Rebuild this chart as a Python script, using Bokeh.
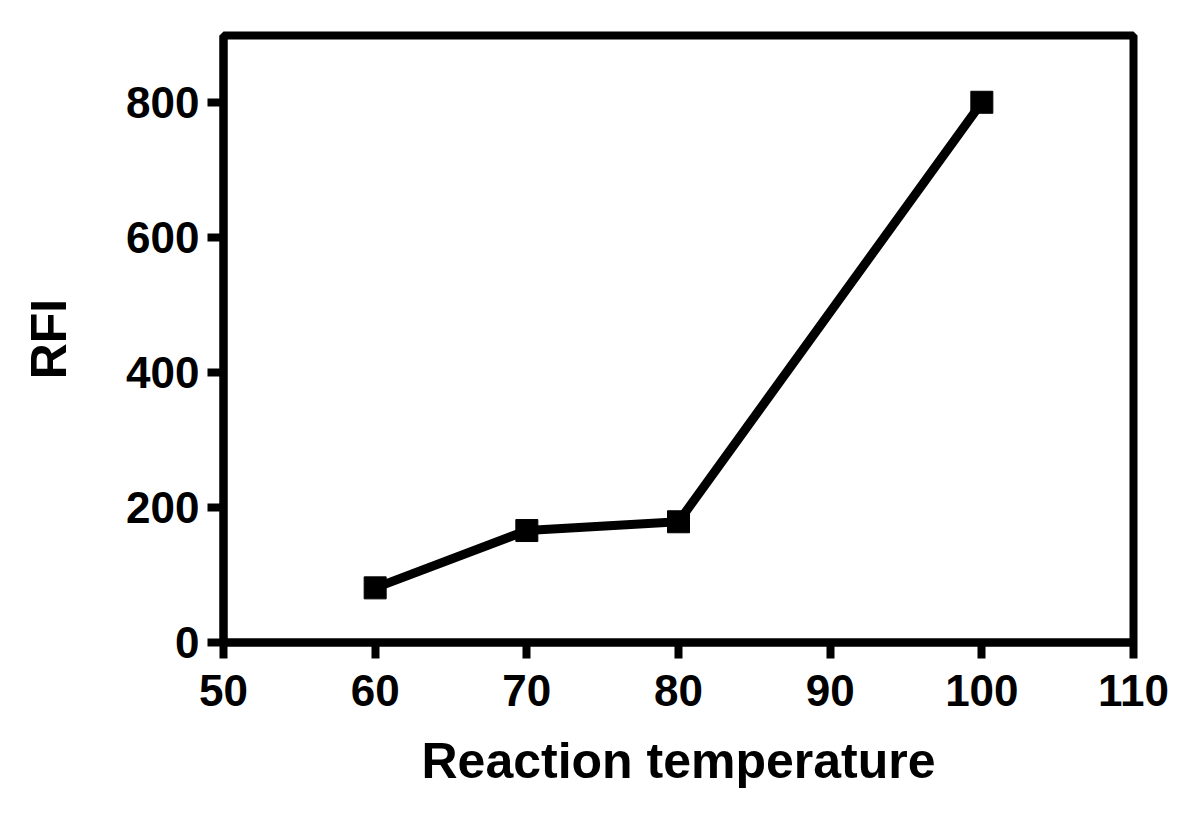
from bokeh.plotting import figure
from bokeh.models import FixedTicker, Range1d
from bokeh.embed import file_html
from bokeh.resources import INLINE

temperature = [60, 70, 80, 100]
rfi = [81, 166, 179, 801]
x_ticks = [50, 60, 70, 80, 90, 100, 110]
y_ticks = [0, 200, 400, 600, 800]

FONT = "Liberation Sans"

p = figure(width=1184, height=800, output_backend="svg", toolbar_location=None,
           x_range=Range1d(50, 110), y_range=Range1d(0, 900),
           min_border_left=223, min_border_right=51, min_border_top=35, min_border_bottom=158)

p.line(temperature, rfi, line_color="black", line_width=9)
p.scatter(temperature, rfi, marker="square", size=22, fill_color="black", line_color="black")

p.xgrid.visible = False
p.ygrid.visible = False
p.outline_line_color = "black"
p.outline_line_width = 8
p.outline_line_alpha = 1.0

p.xaxis.ticker = FixedTicker(ticks=x_ticks)
p.yaxis.ticker = FixedTicker(ticks=y_ticks)
p.xaxis.axis_label = "Reaction temperature"
p.yaxis.axis_label = "RFI"

for ax in (p.xaxis, p.yaxis):
    ax.axis_line_width = 8
    ax.axis_line_color = "black"
    ax.major_tick_line_width = 8
    ax.major_tick_line_color = "black"
    ax.major_tick_out = 16
    ax.major_tick_in = 0
    ax.minor_tick_line_color = None
    ax.major_label_text_font = FONT
    ax.major_label_text_font_style = "bold"
    ax.major_label_text_font_size = "44px"
    ax.major_label_text_color = "black"
    ax.axis_label_text_font = FONT
    ax.axis_label_text_font_style = "bold"
    ax.axis_label_text_font_size = "50px"
    ax.axis_label_text_color = "black"

p.xaxis.major_label_standoff = 16
p.yaxis.major_label_standoff = 8
p.xaxis.axis_label_standoff = 24
p.yaxis.axis_label_standoff = 46

open("out.html", "w").write(file_html(p, INLINE))
